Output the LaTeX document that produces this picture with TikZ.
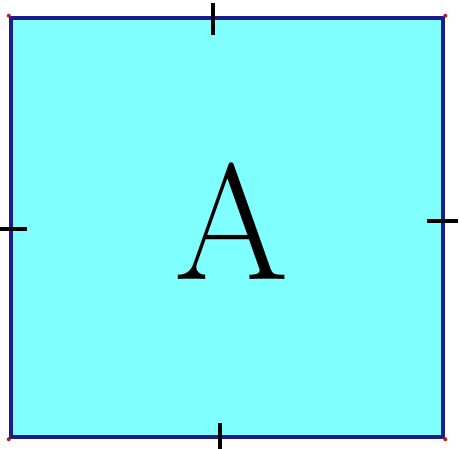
\documentclass[tikz,border=0pt]{standalone}
\usetikzlibrary{positioning}
\definecolor{boxfill}{RGB}{128,255,255}
\definecolor{boxedge}{RGB}{28,28,140}
\definecolor{cornerred}{RGB}{200,20,20}
\tikzset{
  edgetick/.style={black, line width=3.5pt},
  squarebox/.style={draw=boxedge, fill=boxfill, line width=4.5pt,
                    minimum width=432pt, minimum height=419pt, inner sep=0pt}
}

\begin{document}
\begin{tikzpicture}[x=1pt,y=1pt]
\useasboundingbox (0,0) rectangle (459,449);

% ── Square ────────────────────────────────────────────────────────────────────
\node[squarebox] (box) at (227,221.5) {};
\node[font=\fontsize{165}{165}\selectfont, inner sep=0pt] (letter) at (232,227.5) {A};

% Corner dots
\foreach \c in {north west, north east, south west, south east} {
  \fill[cornerred] (box.\c) circle (2pt);
}

% Edge ticks
\draw[edgetick] (213,414) -- (213,446);
\draw[edgetick] (0,220) -- (27,220);
\draw[edgetick] (427,228) -- (458,228);
\draw[edgetick] (220,0) -- (220,26);

\end{tikzpicture}
\end{document}
